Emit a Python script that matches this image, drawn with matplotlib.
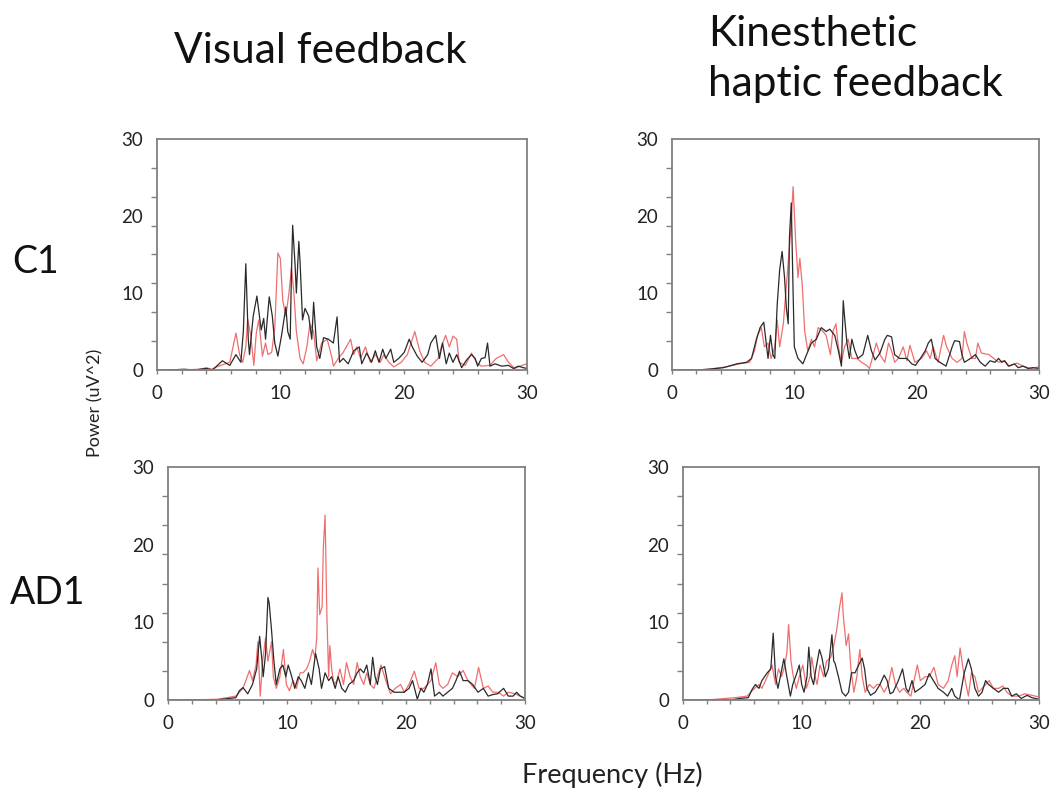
import numpy as np
import matplotlib
matplotlib.use("Agg")
import matplotlib.pyplot as plt

plt.rcParams['font.family'] = ['Lato', 'DejaVu Sans']

# ---- Power spectra (frequency in Hz, power in uV^2) ----
# C1, visual feedback
c1_vis_black_f = [0, 1.0, 2.2, 3.0, 4.0, 4.5, 5.3, 5.9, 6.4, 6.8, 7.0, 7.2, 7.4, 7.5, 7.8, 8.1, 8.45, 8.65, 8.8, 9.1, 9.35, 9.55, 9.8, 10.1, 10.45, 10.6, 10.8, 10.9, 11.0, 11.2, 11.3, 11.5, 11.6, 11.8, 12.0, 12.3, 12.55, 12.7, 12.95, 13.2, 13.5, 13.9, 14.3, 14.6, 14.8, 15.1, 15.5, 15.95, 16.4, 16.6, 17.0, 17.4, 17.7, 18.0, 18.3, 18.55, 18.95, 19.2, 19.6, 20.05, 20.45, 20.7, 21.1, 21.5, 21.95, 22.2, 22.6, 22.9, 23.15, 23.45, 23.7, 24.0, 24.3, 24.7, 25.1, 25.5, 25.8, 26.0, 26.3, 26.6, 26.8, 27.0, 27.4, 27.95, 28.5, 28.9, 29.3, 29.7, 30.0]
c1_vis_black_p = [0.0, 0.0, 0.1, 0.0, 0.2, 0.0, 1.2, 0.6, 2.0, 1.0, 5.0, 13.8, 4.0, 2.0, 7.0, 9.6, 5.2, 6.7, 4.0, 9.5, 7.0, 3.5, 1.8, 4.5, 8.2, 5.0, 4.0, 12.5, 18.8, 13.5, 10.0, 16.7, 14.0, 6.5, 8.0, 7.0, 4.0, 8.8, 3.0, 1.5, 4.2, 4.0, 3.5, 6.9, 1.0, 1.5, 0.8, 2.5, 3.0, 0.8, 2.2, 1.0, 2.5, 1.0, 2.7, 1.5, 2.7, 1.0, 1.5, 2.3, 4.0, 3.0, 1.8, 1.0, 2.0, 3.5, 4.5, 1.5, 3.5, 0.8, 2.2, 1.0, 2.0, 0.3, 1.3, 2.0, 1.5, 0.5, 1.5, 1.6, 3.5, 0.5, 0.8, 0.5, 0.6, 0.2, 0.5, 0.3, 0.2]
c1_vis_red_f = [0, 2.0, 3.5, 4.0, 4.4, 5.0, 5.9, 6.4, 6.7, 6.95, 7.2, 7.35, 7.6, 7.85, 8.05, 8.25, 8.55, 8.8, 9.0, 9.3, 9.55, 9.8, 10.0, 10.2, 10.45, 10.7, 10.9, 11.1, 11.3, 11.6, 11.85, 12.15, 12.4, 12.7, 12.95, 13.35, 13.8, 14.2, 14.3, 14.7, 15.1, 15.7, 15.95, 16.2, 16.5, 16.9, 17.3, 17.7, 18.1, 18.4, 18.8, 19.2, 19.8, 20.3, 20.6, 20.9, 21.3, 21.7, 22.2, 22.8, 23.05, 23.4, 23.7, 24.0, 24.3, 24.5, 25.0, 25.5, 25.9, 26.3, 27.0, 27.5, 28.1, 28.5, 29.0, 29.6, 30.0]
c1_vis_red_p = [0.0, 0.0, 0.1, 0.3, 0.1, 0.5, 1.0, 4.8, 2.0, 1.0, 3.0, 6.6, 4.5, 0.6, 4.8, 6.5, 1.8, 3.5, 2.0, 2.3, 5.5, 15.2, 14.5, 9.0, 7.0, 10.0, 13.3, 10.0, 5.0, 1.5, 0.8, 3.0, 6.0, 5.0, 1.2, 3.5, 4.0, 1.5, 0.5, 1.5, 2.3, 4.0, 2.0, 3.0, 1.5, 3.0, 1.0, 2.0, 1.0, 2.0, 1.0, 0.4, 1.0, 2.0, 3.5, 5.0, 2.5, 1.0, 0.5, 1.5, 3.0, 4.5, 3.0, 4.4, 4.0, 1.0, 0.6, 2.2, 1.0, 0.5, 0.6, 1.5, 2.0, 1.0, 0.2, 0.6, 0.8]

# C1, kinesthetic haptic feedback
c1_hap_black_f = [0, 2.0, 3.0, 4.2, 5.3, 6.1, 6.5, 6.9, 7.2, 7.5, 7.7, 7.85, 8.05, 8.25, 8.4, 8.6, 8.8, 9.0, 9.2, 9.35, 9.5, 9.6, 9.75, 9.9, 10.0, 10.3, 10.7, 11.0, 11.4, 11.8, 12.2, 12.6, 12.9, 13.3, 13.6, 13.85, 14.0, 14.1, 14.3, 14.5, 14.7, 14.95, 15.2, 15.6, 16.0, 16.3, 16.6, 17.0, 17.4, 17.6, 17.95, 18.2, 18.6, 19.2, 19.6, 19.9, 20.3, 20.7, 20.95, 21.2, 21.5, 21.9, 22.4, 22.9, 23.1, 23.5, 23.7, 23.9, 24.4, 24.8, 25.2, 25.6, 26.0, 26.4, 26.7, 26.95, 27.2, 27.5, 28.0, 28.3, 28.7, 29.1, 29.5, 30.0]
c1_hap_black_p = [0.0, 0.0, 0.1, 0.3, 0.8, 1.0, 1.5, 4.0, 5.5, 6.2, 3.5, 1.5, 4.5, 2.0, 1.5, 8.5, 13.0, 15.4, 12.0, 8.0, 6.0, 17.2, 21.7, 10.0, 3.0, 1.5, 0.8, 2.0, 3.5, 4.0, 5.5, 5.0, 5.3, 4.5, 2.5, 0.5, 9.0, 7.0, 3.5, 1.5, 4.0, 2.5, 1.5, 2.0, 4.5, 2.5, 1.3, 2.2, 4.0, 4.5, 4.3, 2.0, 1.5, 1.5, 0.8, 0.6, 1.5, 2.5, 3.5, 4.0, 1.5, 1.0, 0.5, 3.0, 3.8, 3.7, 2.0, 1.0, 1.5, 2.0, 1.0, 0.5, 1.2, 1.0, 1.5, 1.0, 1.2, 0.5, 0.8, 0.3, 0.5, 0.2, 0.3, 0.2]
c1_hap_red_f = [0, 2.0, 3.0, 4.4, 5.5, 6.35, 6.75, 7.0, 7.3, 7.55, 7.85, 8.1, 8.4, 8.6, 8.8, 9.1, 9.35, 9.7, 9.9, 10.1, 10.3, 10.45, 10.65, 10.85, 11.1, 11.4, 11.65, 11.95, 12.35, 12.6, 12.95, 13.15, 13.4, 13.6, 13.85, 14.1, 14.4, 14.7, 15.1, 15.5, 15.9, 16.15, 16.45, 16.7, 17.0, 17.4, 17.7, 17.95, 18.2, 18.5, 18.9, 19.2, 19.45, 19.85, 20.4, 20.8, 21.1, 21.35, 21.75, 22.2, 22.45, 22.9, 23.3, 23.7, 23.9, 24.1, 24.5, 24.8, 25.0, 25.3, 25.9, 26.3, 26.7, 27.1, 27.6, 28.2, 28.7, 29.3, 30.0]
c1_hap_red_p = [0.0, 0.0, 0.1, 0.4, 0.8, 1.0, 2.5, 4.5, 5.5, 3.0, 3.5, 1.5, 3.0, 6.5, 3.0, 6.0, 11.0, 18.0, 23.8, 17.0, 12.0, 14.5, 11.0, 5.0, 2.5, 4.0, 3.0, 5.5, 5.0, 4.5, 2.0, 5.0, 6.0, 3.0, 1.0, 3.0, 4.0, 1.5, 1.5, 1.0, 0.6, 0.2, 2.0, 3.5, 2.0, 1.0, 3.5, 2.5, 1.0, 1.5, 3.0, 1.2, 3.2, 1.0, 1.5, 2.5, 1.5, 3.0, 1.0, 4.5, 3.0, 1.5, 1.0, 1.5, 5.0, 3.5, 1.5, 1.5, 3.5, 2.2, 2.0, 1.5, 1.0, 1.2, 0.5, 0.9, 0.5, 0.2, 0.4]

# AD1, visual feedback
ad1_vis_black_f = [0, 2.0, 3.9, 4.6, 5.7, 6.0, 6.3, 6.7, 7.1, 7.45, 7.7, 7.9, 8.0, 8.2, 8.4, 8.5, 8.7, 8.9, 9.1, 9.4, 9.65, 9.9, 10.1, 10.4, 10.65, 10.95, 11.2, 11.5, 11.8, 12.05, 12.4, 12.7, 12.9, 13.2, 13.5, 13.75, 14.05, 14.3, 14.6, 14.9, 15.2, 15.6, 15.9, 16.15, 16.45, 16.7, 17.0, 17.2, 17.4, 17.6, 17.85, 18.2, 18.55, 19.0, 19.4, 19.85, 20.25, 20.55, 20.8, 20.95, 21.25, 21.5, 21.8, 22.1, 22.4, 22.8, 23.1, 23.5, 23.9, 24.2, 24.5, 24.8, 25.2, 25.6, 26.05, 26.5, 26.9, 27.3, 27.7, 28.2, 28.6, 29.0, 29.3, 29.6, 30.0]
ad1_vis_black_p = [0.0, 0.0, 0.0, 0.1, 0.3, 1.2, 1.6, 0.8, 2.0, 4.0, 8.2, 5.0, 3.0, 6.0, 13.2, 12.5, 9.0, 5.0, 2.0, 4.0, 4.5, 3.0, 4.5, 3.0, 1.5, 3.0, 2.5, 1.5, 3.5, 2.0, 6.0, 4.0, 1.5, 3.5, 2.5, 3.0, 1.5, 3.0, 1.5, 1.0, 2.0, 2.5, 3.5, 4.0, 3.5, 4.5, 2.0, 5.5, 3.0, 2.0, 4.0, 4.3, 1.5, 1.0, 1.0, 1.0, 1.5, 2.5, 1.0, 0.1, 1.5, 1.0, 2.0, 4.0, 0.5, 1.0, 0.5, 1.0, 1.5, 2.5, 3.7, 2.5, 2.5, 2.0, 1.0, 1.5, 0.5, 0.7, 0.8, 1.5, 0.5, 0.5, 1.0, 0.5, 0.2]
ad1_vis_red_f = [0, 2.0, 4.2, 5.7, 6.3, 6.85, 7.1, 7.4, 7.55, 7.75, 7.95, 8.2, 8.4, 8.7, 8.85, 9.1, 9.4, 9.7, 9.95, 10.2, 10.5, 10.8, 11.1, 11.35, 11.65, 11.9, 12.15, 12.35, 12.5, 12.6, 12.75, 12.95, 13.05, 13.2, 13.35, 13.5, 13.6, 13.75, 13.95, 14.2, 14.45, 14.75, 15.0, 15.3, 15.6, 15.9, 16.15, 16.45, 16.7, 17.0, 17.3, 17.6, 17.9, 18.3, 18.7, 19.1, 19.55, 19.85, 20.25, 20.7, 21.1, 21.5, 22.1, 22.5, 22.8, 23.1, 23.5, 23.9, 24.35, 24.8, 25.2, 25.75, 26.1, 26.5, 26.9, 27.3, 27.75, 28.2, 28.6, 29.15, 29.6, 30.0]
ad1_vis_red_p = [0.0, 0.0, 0.1, 0.5, 1.5, 3.8, 2.5, 4.5, 7.5, 0.5, 5.0, 8.0, 5.0, 7.5, 3.0, 1.5, 3.0, 6.5, 2.0, 1.2, 2.5, 1.5, 3.5, 3.5, 4.0, 5.0, 6.5, 5.5, 8.0, 17.0, 11.0, 12.0, 19.5, 23.8, 11.0, 3.0, 7.0, 4.0, 2.0, 2.5, 4.0, 2.0, 4.8, 3.0, 2.0, 4.8, 3.0, 2.0, 3.5, 2.0, 1.5, 3.0, 4.5, 2.5, 0.8, 1.5, 2.0, 1.0, 2.0, 3.7, 1.5, 1.5, 2.5, 4.8, 2.0, 1.5, 2.0, 3.5, 3.0, 3.8, 2.5, 1.5, 4.2, 1.5, 1.8, 1.0, 1.0, 0.5, 1.0, 0.8, 0.5, 0.2]

# AD1, kinesthetic haptic feedback
ad1_hap_black_f = [0, 2.0, 4.0, 4.8, 5.5, 5.8, 6.1, 6.4, 6.65, 7.1, 7.4, 7.6, 7.8, 8.0, 8.2, 8.5, 8.75, 9.05, 9.25, 9.6, 9.8, 10.0, 10.2, 10.45, 10.6, 10.8, 11.0, 11.2, 11.5, 11.7, 12.0, 12.25, 12.55, 12.7, 12.8, 13.1, 13.4, 13.7, 13.95, 14.2, 14.5, 14.8, 15.1, 15.3, 15.5, 15.8, 16.2, 16.6, 16.95, 17.2, 17.45, 17.7, 18.15, 18.5, 18.8, 19.0, 19.3, 19.55, 20.0, 20.4, 20.75, 21.1, 21.5, 21.95, 22.3, 22.65, 22.9, 23.3, 23.7, 24.05, 24.3, 24.6, 24.9, 25.2, 25.5, 25.75, 26.15, 26.6, 27.0, 27.4, 27.7, 28.1, 28.5, 29.0, 29.4, 30.0]
ad1_hap_black_p = [0.0, 0.0, 0.0, 0.2, 0.3, 1.3, 2.0, 1.5, 2.5, 3.5, 4.0, 8.6, 3.0, 1.5, 3.0, 5.3, 3.0, 0.5, 2.0, 3.5, 4.5, 2.0, 1.0, 3.0, 6.8, 3.0, 2.0, 4.0, 6.5, 5.5, 3.0, 4.0, 8.4, 5.0, 4.8, 3.0, 1.0, 0.5, 1.0, 3.5, 3.5, 4.5, 5.4, 4.0, 1.5, 0.6, 1.0, 2.0, 3.2, 2.5, 0.8, 1.0, 2.5, 4.0, 1.5, 1.0, 2.5, 1.0, 1.5, 2.0, 3.4, 2.5, 1.5, 1.0, 0.5, 1.5, 0.5, 0.0, 3.5, 5.3, 4.0, 1.5, 0.5, 1.0, 2.5, 2.0, 1.5, 1.0, 1.5, 1.5, 0.5, 0.8, 0.2, 0.6, 0.3, 0.1]
ad1_hap_red_f = [0, 2.0, 4.4, 5.4, 5.9, 6.4, 6.65, 7.1, 7.5, 7.8, 8.05, 8.3, 8.5, 8.75, 8.9, 9.1, 9.3, 9.55, 9.8, 10.1, 10.4, 10.7, 10.85, 11.05, 11.3, 11.55, 11.85, 12.1, 12.45, 12.7, 12.95, 13.2, 13.4, 13.5, 13.75, 13.95, 14.15, 14.4, 14.65, 14.9, 15.1, 15.35, 15.7, 16.05, 16.35, 16.6, 16.95, 17.3, 17.6, 17.9, 18.25, 18.6, 18.85, 19.2, 19.4, 19.75, 20.0, 20.4, 20.75, 21.15, 21.5, 21.95, 22.35, 22.65, 22.9, 23.1, 23.35, 23.6, 23.85, 24.05, 24.3, 24.6, 24.9, 25.2, 25.5, 25.8, 26.15, 26.6, 26.95, 27.3, 27.7, 28.3, 28.8, 29.4, 30.0]
ad1_hap_red_p = [0.0, 0.0, 0.3, 0.5, 1.3, 2.0, 1.5, 3.0, 4.5, 2.0, 4.0, 3.0, 4.0, 6.0, 9.7, 5.0, 3.0, 1.5, 3.0, 4.5, 1.5, 3.0, 5.5, 3.5, 2.0, 4.5, 3.0, 5.0, 5.5, 7.0, 9.0, 12.0, 13.8, 11.0, 7.0, 8.5, 4.0, 1.0, 3.0, 6.5, 3.0, 1.0, 2.0, 1.5, 2.0, 2.0, 1.0, 2.0, 4.2, 2.0, 1.0, 1.5, 1.0, 0.5, 2.0, 4.5, 2.5, 3.0, 3.0, 4.2, 2.0, 1.5, 2.5, 4.5, 5.7, 3.0, 6.7, 4.0, 2.0, 0.5, 3.5, 3.0, 1.0, 1.5, 2.0, 2.5, 1.5, 1.5, 1.8, 1.0, 0.5, 0.5, 0.8, 0.6, 0.4]

col_titles = ["Visual feedback", "Kinesthetic\nhaptic feedback"]
row_labels = ["C1", "AD1"]
x_ticks = [0, 10, 20, 30]
y_ticks = [0, 10, 20, 30]

panels = [
    (c1_vis_red_f, c1_vis_red_p, c1_vis_black_f, c1_vis_black_p),
    (c1_hap_red_f, c1_hap_red_p, c1_hap_black_f, c1_hap_black_p),
    (ad1_vis_red_f, ad1_vis_red_p, ad1_vis_black_f, ad1_vis_black_p),
    (ad1_hap_red_f, ad1_hap_red_p, ad1_hap_black_f, ad1_hap_black_p),
]

W, H = 1059, 796
fig = plt.figure(figsize=(W / 100, H / 100), dpi=100)
fig.patch.set_facecolor("white")

# panel boxes in pixels: (left, top, right, bottom)
boxes = [(157, 139, 527, 370), (672, 139, 1039, 370),
         (168, 467, 525, 700), (683, 467, 1039, 700)]

frame_col = "#808080"
red_col = "#ef6f6f"
black_col = "#2a2a2a"

for (l, t, r, b), (rf, rp, bf, bp) in zip(boxes, panels):
    ax = fig.add_axes([l / W, 1 - b / H, (r - l) / W, (b - t) / H])
    ax.plot(rf, rp, color=red_col, lw=0.9)
    ax.plot(bf, bp, color=black_col, lw=0.9)
    ax.set_xlim(0, 30)
    ax.set_ylim(0, 30)
    for s in ax.spines.values():
        s.set_color(frame_col)
        s.set_linewidth(1.3)
    ax.set_xticks(x_ticks)
    ax.set_xticks(np.arange(0, 30.01, 2), minor=True)
    ax.set_yticks(y_ticks)
    ax.set_yticks(np.arange(0, 30.01, 3.75), minor=True)
    ax.tick_params(axis="x", which="both", direction="out", length=3,
                   width=1.0, color=frame_col)
    ax.tick_params(axis="x", which="major", pad=8, labelsize=13.5,
                   labelcolor="#222222")
    ax.tick_params(axis="y", which="major", length=0, pad=10,
                   labelsize=13.5, labelcolor="#222222")
    ax.tick_params(axis="y", which="minor", direction="out", length=4.5,
                   width=1.0, color=frame_col)

# column titles
fig.text(320 / W, 1 - 51 / H, col_titles[0], fontsize=30.5, ha="center",
         va="center", color="#111111")
fig.text(708 / W, 1 - 59 / H, col_titles[1], fontsize=30.5, ha="left",
         va="center", color="#111111", linespacing=1.4)

# row labels
fig.text(12 / W, 1 - 262 / H, row_labels[0], fontsize=27, ha="left",
         va="center", color="#111111")
fig.text(10 / W, 1 - 593 / H, row_labels[1], fontsize=27, ha="left",
         va="center", color="#111111")

# shared axis labels
fig.text(95 / W, 1 - 403 / H, "Power (uV^2)", fontsize=13, rotation=90,
         ha="center", va="center", color="#222222")
fig.text(612 / W, 1 - 775 / H, "Frequency (Hz)", fontsize=19.5, ha="center",
         va="center", color="#222222")

fig.savefig("out.png", dpi=100, facecolor="white")
